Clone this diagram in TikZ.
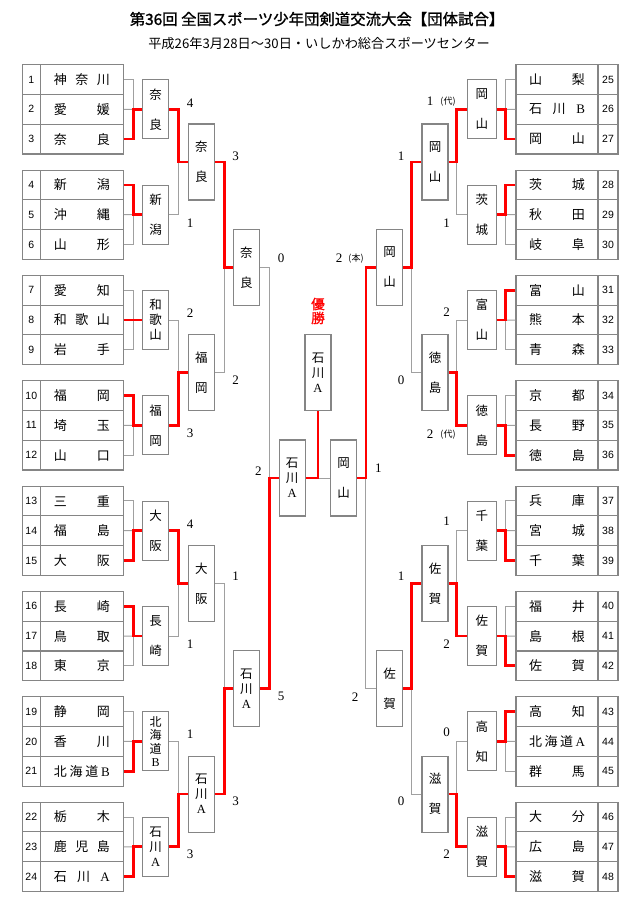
\documentclass[tikz,border=0pt]{standalone}
\usepackage{fontspec}
\setmainfont{Liberation Serif}
\newfontfamily\cjk{Noto Sans CJK JP}
\newfontfamily\cjkb[FakeBold=1.2]{Noto Sans CJK JP}
\newfontfamily\numsans{Liberation Sans}
\newcommand\lat[1]{{\rmfamily #1}}
\newcommand\vtwo[2]{#1\\[15pt]#2}
\newcommand\hf{\hfill{}}
\definecolor{tgray}{HTML}{858585}
\definecolor{lgray}{HTML}{A0A0A0}
\begin{document}
\begin{tikzpicture}[x=1pt,y=-1pt,
  numcell/.style={draw=tgray,line width=1.1pt,minimum height=29.75pt,inner sep=0pt,font=\numsans\fontsize{10.5}{12}\selectfont},
  namecell/.style={draw=tgray,line width=1.1pt,minimum height=29.75pt,inner sep=0pt,font=\cjk\fontsize{13}{14}\selectfont},
  rbox/.style={draw=tgray,line width=1.1pt,minimum width=26pt,minimum height=76pt,inner sep=0pt,align=center,font=\cjk\fontsize{12.5}{15}\selectfont},
  fbox/.style={rbox,minimum height=59pt},
  gline/.style={draw=lgray,line width=1pt},
  rline/.style={draw=red,line width=2.8pt},
  scr/.style={inner sep=0pt,font=\rmfamily\fontsize{13}{14}\selectfont},
  small/.style={inner sep=0pt,font=\cjk\fontsize{9}{10}\selectfont}]
\fill[white] (0,0) rectangle (640,905);
\useasboundingbox (0,0) rectangle (640,905);

% title
\node[inner sep=0pt,font=\cjkb\fontsize{15.4}{17}\selectfont] (title) at (317,19) {第36回 全国スポーツ少年団剣道交流大会【団体試合】};
\node[inner sep=0pt,font=\cjk\fontsize{13.2}{15}\selectfont] (sub) at (319,43) {平成26年3月28日～30日・いしかわ総合スポーツセンター};

% teams
\foreach \i/\nm in {1/神\hf 奈\hf 川,2/愛\hf 媛,3/奈\hf 良,4/新\hf 潟,5/沖\hf 縄,6/山\hf 形,
  7/愛\hf 知,8/和\hf 歌\hf 山,9/岩\hf 手,10/福\hf 岡,11/埼\hf 玉,12/山\hf 口,
  13/三\hf 重,14/福\hf 島,15/大\hf 阪,16/長\hf 崎,17/鳥\hf 取,18/東\hf 京,
  19/静\hf 岡,20/香\hf 川,21/北\hf 海\hf 道\hf \lat{B},22/栃\hf 木,23/鹿\hf 児\hf 島,24/石\hf 川\hf \lat{A},
  25/山\hf 梨,26/石\hf 川\hf \lat{B},27/岡\hf 山,28/茨\hf 城,29/秋\hf 田,30/岐\hf 阜,
  31/富\hf 山,32/熊\hf 本,33/青\hf 森,34/京\hf 都,35/長\hf 野,36/徳\hf 島,
  37/兵\hf 庫,38/宮\hf 城,39/千\hf 葉,40/福\hf 井,41/島\hf 根,42/佐\hf 賀,
  43/高\hf 知,44/北\hf 海\hf 道\hf \lat{A},45/群\hf 馬,46/大\hf 分,47/広\hf 島,48/滋\hf 賀}{
  \pgfmathtruncatemacro\kk{mod(int((\i-1)/3),8)}
  \pgfmathtruncatemacro\rr{mod(\i-1,3)}
  \pgfmathsetmacro\yy{79.575+105.35*\kk+29.75*\rr}
  \ifnum\i<25
    \node[numcell,minimum width=18.3pt] (L\i) at (31.3,\yy) {\i};
    \node[namecell,minimum width=83pt] (N\i) at (81.8,\yy) {\hbox to 56pt{\nm}};
  \else
    \node[namecell,minimum width=82pt] (N\i) at (557,\yy) {\hbox to 56pt{\nm}};
    \node[numcell,minimum width=20pt] (L\i) at (608,\yy) {\i};
  \fi
}

% round 1 boxes
\node[fbox] (a1) at (155.7,109.3) {\vtwo{奈}{良}};
\node[fbox] (a2) at (155.7,214.65) {\vtwo{新}{潟}};
\node[fbox] (a3) at (155.7,320.0) {和\\歌\\山};
\node[fbox] (a4) at (155.7,425.35) {\vtwo{福}{岡}};
\node[fbox] (a5) at (155.7,530.7) {\vtwo{大}{阪}};
\node[fbox] (a6) at (155.7,636.05) {\vtwo{長}{崎}};
\node[fbox,font=\cjk\fontsize{12}{13.5}\selectfont] (a7) at (155.7,741.4) {北\\海\\道\\\lat{B}};
\node[fbox] (a8) at (155.7,846.75) {石\\川\\\lat{A}};
\node[fbox,minimum width=29pt] (a9) at (481.8,109.3) {\vtwo{岡}{山}};
\node[fbox,minimum width=29pt] (a10) at (481.8,214.65) {\vtwo{茨}{城}};
\node[fbox,minimum width=29pt] (a11) at (481.8,320.0) {\vtwo{富}{山}};
\node[fbox,minimum width=29pt] (a12) at (481.8,425.35) {\vtwo{徳}{島}};
\node[fbox,minimum width=29pt] (a13) at (481.8,530.7) {\vtwo{千}{葉}};
\node[fbox,minimum width=29pt] (a14) at (481.8,636.05) {\vtwo{佐}{賀}};
\node[fbox,minimum width=29pt] (a15) at (481.8,741.4) {\vtwo{高}{知}};
\node[fbox,minimum width=29pt] (a16) at (481.8,846.75) {\vtwo{滋}{賀}};

% round 2 boxes
\node[rbox] (b1) at (201.3,161.98) {\vtwo{奈}{良}};
\node[rbox] (b2) at (201.3,372.68) {\vtwo{福}{岡}};
\node[rbox] (b3) at (201.3,583.38) {\vtwo{大}{阪}};
\node[rbox] (b4) at (201.3,794.08) {石\\川\\\lat{A}};
\node[rbox] (b5) at (435,161.98) {\vtwo{岡}{山}};
\node[rbox] (b6) at (435,372.68) {\vtwo{徳}{島}};
\node[rbox] (b7) at (435,583.38) {\vtwo{佐}{賀}};
\node[rbox] (b8) at (435,794.08) {\vtwo{滋}{賀}};

% round 3 boxes
\node[rbox] (c1) at (246.3,267.33) {\vtwo{奈}{良}};
\node[rbox] (c2) at (246.3,688.73) {石\\川\\\lat{A}};
\node[rbox] (c3) at (389.5,267.33) {\vtwo{岡}{山}};
\node[rbox] (c4) at (389.5,688.73) {\vtwo{佐}{賀}};

% semifinal / final
\node[rbox] (sL) at (292.2,478.03) {石\\川\\\lat{A}};
\node[rbox] (sR) at (343.7,478.03) {\vtwo{岡}{山}};
\node[rbox] (W) at (318,372.9) {石\\川\\\lat{A}};
\node[inner sep=0pt,align=center,text=red,font=\cjkb\fontsize{13.5}{14}\selectfont] (yusho) at (318,311) {優\\勝};

% round 1 connectors
\foreach \g in {1,...,8}{
  \pgfmathtruncatemacro\ta{3*\g-2}
  \pgfmathtruncatemacro\tb{3*\g-1}
  \pgfmathtruncatemacro\tc{3*\g}
  \draw[gline] (N\ta.east) -- ++(10,0) |- (a\g.west);
  \draw[gline] (N\tc.east) -- ++(10,0) |- (a\g.west);
  \draw[gline] (N\tb.east) -- (a\g.west);
}
\foreach \g in {9,...,16}{
  \pgfmathtruncatemacro\ta{3*\g-2}
  \pgfmathtruncatemacro\tb{3*\g-1}
  \pgfmathtruncatemacro\tc{3*\g}
  \draw[gline] (N\ta.west) -- ++(-10,0) |- (a\g.east);
  \draw[gline] (N\tc.west) -- ++(-10,0) |- (a\g.east);
  \draw[gline] (N\tb.west) -- (a\g.east);
}
% round 2 connectors
\foreach \j in {1,...,4}{
  \pgfmathtruncatemacro\ga{2*\j-1}
  \pgfmathtruncatemacro\gb{2*\j}
  \draw[gline] (a\ga.east) -- ++(9.5,0) |- (b\j.west);
  \draw[gline] (a\gb.east) -- ++(9.5,0) |- (b\j.west);
}
\foreach \j in {5,...,8}{
  \pgfmathtruncatemacro\ga{2*\j-1}
  \pgfmathtruncatemacro\gb{2*\j}
  \draw[gline] (a\ga.west) -- ++(-10,0) |- (b\j.east);
  \draw[gline] (a\gb.west) -- ++(-10,0) |- (b\j.east);
}
% round 3 connectors
\draw[gline] (b1.east) -- ++(9.7,0) |- (c1.west);
\draw[gline] (b2.east) -- ++(9.7,0) |- (c1.west);
\draw[gline] (b3.east) -- ++(9.7,0) |- (c2.west);
\draw[gline] (b4.east) -- ++(9.7,0) |- (c2.west);
\draw[gline] (b5.west) -- ++(-10,0) |- (c3.east);
\draw[gline] (b6.west) -- ++(-10,0) |- (c3.east);
\draw[gline] (b7.west) -- ++(-10,0) |- (c4.east);
\draw[gline] (b8.west) -- ++(-10,0) |- (c4.east);
% semifinal connectors
\draw[gline] (c1.east) -- ++(9.7,0) |- (sL.west);
\draw[gline] (c2.east) -- ++(9.7,0) |- (sL.west);
\draw[gline] (c3.west) -- ++(-10,0) |- (sR.east);
\draw[gline] (c4.west) -- ++(-10,0) |- (sR.east);
\draw[gline] (sL.east) -- (sR.west);

% winners (red)
\foreach \w/\g in {3/1,4/2,8/3,10/4,15/5,16/6,21/7,24/8}
  \draw[rline] (N\w.east) -- ++(10,0) |- (a\g.west);
\foreach \w/\g in {27/9,28/10,31/11,36/12,39/13,42/14,43/15,48/16}
  \draw[rline] (N\w.west) -- ++(-10,0) |- (a\g.east);
\foreach \g/\j in {1/1,4/2,5/3,8/4}
  \draw[rline] (a\g.east) -- ++(9.5,0) |- (b\j.west);
\foreach \g/\j in {9/5,12/6,14/7,16/8}
  \draw[rline] (a\g.west) -- ++(-10,0) |- (b\j.east);
\draw[rline] (b1.east) -- ++(9.7,0) |- (c1.west);
\draw[rline] (b4.east) -- ++(9.7,0) |- (c2.west);
\draw[rline] (b5.west) -- ++(-10,0) |- (c3.east);
\draw[rline] (b7.west) -- ++(-10,0) |- (c4.east);
\draw[rline] (c2.east) -- ++(9.7,0) |- (sL.west);
\draw[rline] (c3.west) -- ++(-10,0) |- (sR.east);
\draw[rline] (sL.east) -| (W.south);

% scores left
\node[scr] (s1) at (190,103) {4};
\node[scr] (s2) at (190,223.3) {1};
\node[scr] (s3) at (190,313.3) {2};
\node[scr] (s4) at (190,433.3) {3};
\node[scr] (s5) at (190,524.3) {4};
\node[scr] (s6) at (190,644) {1};
\node[scr] (s7) at (190,734.3) {1};
\node[scr] (s8) at (190,854.3) {3};
\node[scr] (t1) at (235.7,156) {3};
\node[scr] (t2) at (235.7,380) {2};
\node[scr] (t3) at (235.7,576.7) {1};
\node[scr] (t4) at (235.7,801.7) {3};
\node[scr] (u1) at (281,258.3) {0};
\node[scr] (u2) at (281,696.7) {5};
\node[scr] (v1) at (258.3,470.7) {2};
% scores right
\node[scr] (s9) at (430,101.7) {1};
\node[small] (s9d) at (448,101.7) {(代)};
\node[scr] (s10) at (446.7,223.3) {1};
\node[scr] (s11) at (446.7,311.7) {2};
\node[scr] (s12) at (430,434.3) {2};
\node[small] (s12d) at (448,434.3) {(代)};
\node[scr] (s13) at (446.7,521.7) {1};
\node[scr] (s14) at (446.7,644) {2};
\node[scr] (s15) at (446.7,732.3) {0};
\node[scr] (s16) at (446.7,854) {2};
\node[scr] (t5) at (401,156) {1};
\node[scr] (t6) at (401,380) {0};
\node[scr] (t7) at (401,576.7) {1};
\node[scr] (t8) at (401,801.7) {0};
\node[scr] (u3) at (339,258.3) {2};
\node[small] (u3d) at (356,258.3) {(本)};
\node[scr] (u4) at (355,696.7) {2};
\node[scr] (v2) at (378.3,468.3) {1};
\end{tikzpicture}
\end{document}
